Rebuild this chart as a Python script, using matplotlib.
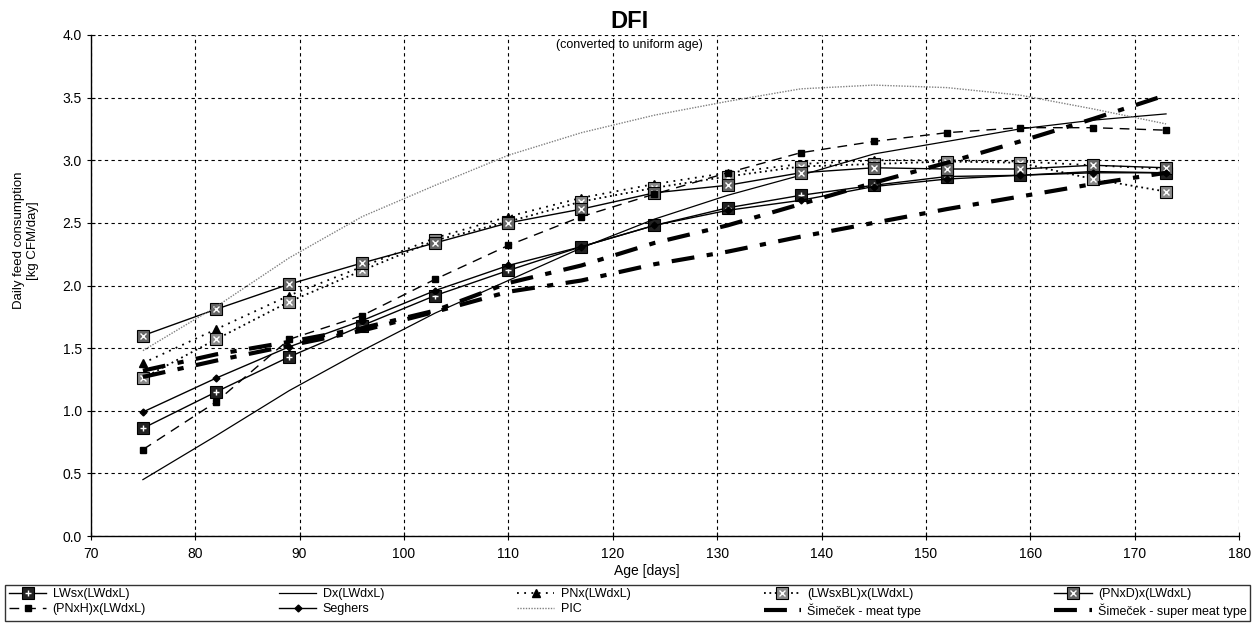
import numpy as np
import matplotlib
matplotlib.use("Agg")
import matplotlib.pyplot as plt
from matplotlib.legend_handler import HandlerTuple

plt.rcParams["font.family"] = ["Liberation Sans", "DejaVu Sans"]

# ages (days) at which the values were read
ages = [75, 82, 89, 96, 103, 110, 117, 124, 131, 138, 145, 152, 159, 166, 173]

lwsx = [0.86, 1.15, 1.43, 1.68, 1.92, 2.12, 2.31, 2.48, 2.62, 2.72, 2.80, 2.87, 2.88, 2.91, 2.90]
dx = [0.45, 0.80, 1.16, 1.48, 1.78, 2.04, 2.30, 2.53, 2.72, 2.88, 3.05, 3.15, 3.25, 3.32, 3.37]
pnx = [1.38, 1.65, 1.92, 2.15, 2.38, 2.55, 2.70, 2.81, 2.90, 2.97, 3.00, 3.00, 2.99, 2.96, 2.93]
lwsxbl = [1.26, 1.57, 1.87, 2.12, 2.36, 2.51, 2.67, 2.78, 2.87, 2.95, 2.97, 2.99, 2.98, 2.85, 2.75]
pnxd = [1.60, 1.81, 2.01, 2.18, 2.34, 2.50, 2.61, 2.74, 2.80, 2.90, 2.94, 2.93, 2.93, 2.96, 2.94]
pnxh = [0.69, 1.07, 1.57, 1.76, 2.05, 2.32, 2.55, 2.73, 2.90, 3.06, 3.15, 3.22, 3.26, 3.26, 3.24]
seghers = [0.99, 1.26, 1.51, 1.72, 1.96, 2.16, 2.31, 2.48, 2.60, 2.68, 2.79, 2.85, 2.88, 2.90, 2.90]
pic = [1.48, 1.83, 2.22, 2.55, 2.80, 3.04, 3.22, 3.36, 3.47, 3.57, 3.60, 3.58, 3.52, 3.41, 3.29]
sim_meat = [1.32, 1.45, 1.55, 1.66, 1.80, 2.02, 2.16, 2.34, 2.48, 2.65, 2.82, 2.98, 3.15, 3.33, 3.52]
sim_super = [1.27, 1.40, 1.52, 1.64, 1.79, 1.95, 2.04, 2.17, 2.27, 2.39, 2.50, 2.61, 2.71, 2.81, 2.90]

x_ticks = list(range(70, 181, 10))
y_ticks = [0.0, 0.5, 1.0, 1.5, 2.0, 2.5, 3.0, 3.5, 4.0]


def boxed_marker(ax, x, y, face, inner, ls, lw, label):
    # square marker with a white symbol drawn on top of it
    line, = ax.plot(x, y, color="black", ls=ls, lw=lw, marker="s", ms=8,
                    mfc=face, mec="black", mew=0.8, label=label)
    sym, = ax.plot(x, y, ls="none", marker=inner, ms=5, mec="white", mew=1.0)
    return (line, sym)


def main():
    fig = plt.figure(figsize=(12.58, 6.25), dpi=100)
    ax = fig.add_axes([0.0721, 0.1424, 0.9129, 0.8016])

    handles = {}
    handles["LWsx(LWdxL)"] = boxed_marker(ax, ages, lwsx, "#222222", "+", "-", 1.0, "LWsx(LWdxL)")
    handles["Dx(LWdxL)"], = ax.plot(ages, dx, color="black", lw=0.9)
    handles["PNx(LWdxL)"], = ax.plot(ages, pnx, color="black", lw=1.3, ls=(0, (1, 3)),
                                     marker="^", ms=6, mfc="black", mec="black")
    handles["(LWsxBL)x(LWdxL)"] = boxed_marker(ax, ages, lwsxbl, "#8a8a8a", "x", (0, (1, 2)), 1.3,
                                               "(LWsxBL)x(LWdxL)")
    handles["(PNxD)x(LWdxL)"] = boxed_marker(ax, ages, pnxd, "#666666", "x", "-", 1.0,
                                             "(PNxD)x(LWdxL)")
    handles["(PNxH)x(LWdxL)"], = ax.plot(ages, pnxh, color="black", lw=1.0, ls=(0, (7, 5)),
                                         marker="s", ms=5, mfc="black", mec="black")
    handles["Seghers"], = ax.plot(ages, seghers, color="black", lw=1.0,
                                  marker="D", ms=3.5, mfc="black", mec="black")
    handles["PIC"], = ax.plot(ages, pic, color="#808080", lw=1.0, ls=(0, (1, 1)))
    handles["Šimeček - meat type"], = ax.plot(ages, sim_meat, color="black", lw=3.0,
                                              ls=(0, (5.5, 3, 1.5, 3)))
    handles["Šimeček - super meat type"], = ax.plot(ages, sim_super, color="black", lw=3.0,
                                                    ls=(0, (5.5, 3, 1.5, 3)))

    ax.set_xlim(70, 180)
    ax.set_ylim(0, 4.0)
    ax.set_xticks(x_ticks)
    ax.set_yticks(y_ticks)
    ax.set_yticklabels([f"{v:.1f}" for v in y_ticks])
    ax.tick_params(axis="both", direction="inout", length=6, width=0.8, labelsize=10,
                   color="black")
    ax.tick_params(axis="x", pad=5)
    ax.grid(True, color="black", lw=0.8, ls=(0, (3, 3)))
    ax.set_axisbelow(True)
    for side in ["top", "right"]:
        ax.spines[side].set_visible(False)
    for side in ["left", "bottom"]:
        ax.spines[side].set_linewidth(1.0)

    ax.set_xlabel("Age [days]", fontsize=10)
    ax.xaxis.set_label_coords(0.484, -0.056)
    ax.set_ylabel("Daily feed consumption\n[kg CFM/day]", fontsize=9.5)
    ax.yaxis.set_label_coords(-0.045, 0.59)

    fig.text(0.5, 0.965, "DFI", ha="center", va="center", fontsize=17, fontweight="bold")
    fig.text(0.5, 0.928, "(converted to uniform age)", ha="center", va="center", fontsize=9)

    # legend is filled column by column, so reorder to read row-wise
    order = ["LWsx(LWdxL)", "(PNxH)x(LWdxL)", "Dx(LWdxL)", "Seghers",
             "PNx(LWdxL)", "PIC", "(LWsxBL)x(LWdxL)", "Šimeček - meat type",
             "(PNxD)x(LWdxL)", "Šimeček - super meat type"]
    leg = fig.legend([handles[k] for k in order], order, ncol=5, mode="expand",
                     loc="lower left", bbox_to_anchor=(0.004, 0.006, 0.99, 0.069),
                     fontsize=9, handlelength=3.0, handletextpad=0.5, numpoints=1,
                     frameon=True, fancybox=False, borderaxespad=0, borderpad=0.3,
                     labelspacing=0.2, handler_map={tuple: HandlerTuple(ndivide=1)})
    leg.get_frame().set_edgecolor("black")
    leg.get_frame().set_linewidth(1.0)

    fig.savefig("out.png", dpi=100)


if __name__ == "__main__":
    main()
